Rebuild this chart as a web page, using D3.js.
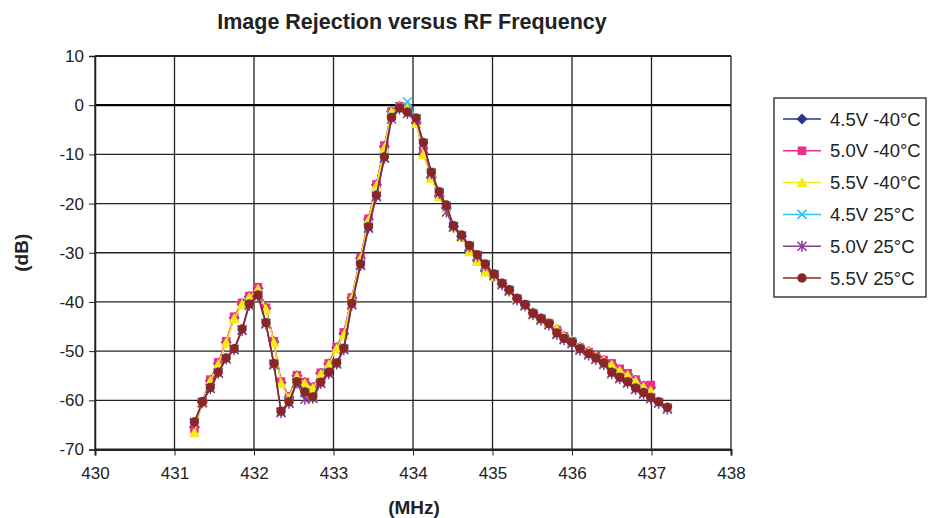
<!DOCTYPE html>
<html>
<head>
<meta charset="utf-8">
<script src="https://cdn.jsdelivr.net/npm/d3@7"></script>
<style>
  body { margin: 0; background: #fff; }
  svg { font-family: "Liberation Sans", Arial, sans-serif; }
  .grid line { stroke: #222; stroke-width: 1.3; }
</style>
</head>
<body>
<svg id="chart"></svg>
<script>
// frequencies (MHz)
const freq = [431.25, 431.35, 431.45, 431.55, 431.65, 431.75, 431.85, 431.94, 432.05, 432.15,
  432.25, 432.34, 432.44, 432.54, 432.64, 432.74, 432.84, 432.94, 433.04, 433.13,
  433.23, 433.34, 433.44, 433.54, 433.64, 433.73, 433.83, 433.93, 434.04, 434.13,
  434.23, 434.33, 434.42, 434.51, 434.61, 434.71, 434.81, 434.91, 435.02, 435.12,
  435.21, 435.31, 435.41, 435.51, 435.61, 435.71, 435.81, 435.9, 436.0, 436.1,
  436.21, 436.3, 436.4, 436.5, 436.6, 436.7, 436.8, 436.9, 436.99, 437.09, 437.2];

const v45m40 = [-65.5, -60.4, -56.0, -52.5, -48.2, -43.2, -40.4, -38.9, -37.2, -41.3,
  -48.1, -56.4, -59.4, -55.0, -56.4, -57.4, -54.5, -52.6, -49.3, -46.4,
  -39.2, -31.1, -23.2, -16.2, -8.4, -1.3, -0.2, -0.6, -3.5, -9.8,
  -14.7, -18.4, -20.9, -24.7, -26.7, -29.6, -31.6, -33.7, -34.8, -36.3,
  -37.6, -39.3, -40.6, -42.2, -43.3, -44.3, -45.6, -46.9, -48.0, -49.2,
  -50.1, -51.0, -51.9, -52.6, -53.8, -54.7, -55.9, -57.1, -57.4];
const v50m40 = [-65.8, -60.3, -55.8, -52.3, -48.0, -43.0, -40.2, -38.8, -37.0, -41.2,
  -48.0, -56.2, -59.3, -54.9, -56.3, -57.3, -54.4, -52.5, -49.2, -46.2,
  -39.1, -31.0, -23.1, -16.1, -8.2, -1.3, -0.2, -0.7, -3.3, -9.6,
  -14.5, -18.3, -20.8, -24.6, -26.6, -29.5, -31.5, -33.6, -34.7, -36.3,
  -37.6, -39.3, -40.6, -42.3, -43.3, -44.3, -45.7, -47.0, -48.0, -49.3,
  -50.2, -51.0, -51.8, -52.5, -53.6, -54.5, -55.8, -57.0, -56.9];
const v55m40 = [-66.6, -60.5, -56.1, -52.7, -48.3, -43.4, -40.5, -39.1, -37.4, -41.5,
  -48.3, -56.6, -59.6, -55.2, -56.6, -57.6, -54.7, -52.8, -49.5, -46.7,
  -39.3, -31.2, -23.4, -16.4, -8.7, -1.4, -0.3, -0.5, -3.7, -10.0,
  -14.9, -18.6, -21.0, -24.8, -26.8, -29.8, -31.8, -33.9, -34.9, -36.3,
  -37.6, -39.3, -40.6, -42.2, -43.3, -44.2, -45.5, -46.9, -47.9, -49.2,
  -50.1, -51.0, -51.9, -52.8, -54.0, -54.9, -56.1, -57.3, -58.1];
const v45p25 = [-64.5, -60.4, -57.5, -54.4, -51.5, -49.6, -45.6, -40.5, -38.7, -44.3,
  -52.6, -62.3, -60.4, -56.3, -58.5, -59.4, -56.4, -54.4, -52.5, -49.5,
  -40.4, -32.4, -24.8, -18.4, -10.6, -2.2, -0.4, 0.7, -2.7, -7.7,
  -13.7, -17.7, -20.5, -24.6, -26.5, -28.6, -30.5, -32.4, -34.4, -36.3,
  -37.6, -39.4, -40.6, -42.4, -43.5, -44.5, -46.4, -47.5, -48.3, -49.6,
  -50.6, -51.5, -52.5, -54.4, -55.4, -56.3, -57.6, -58.5, -59.5, -60.4, -61.5];
const v50p25 = [-64.6, -60.5, -57.6, -54.5, -51.6, -49.7, -45.8, -40.7, -38.8, -44.5,
  -52.8, -62.5, -60.6, -56.5, -59.8, -59.6, -56.6, -54.6, -52.6, -49.7,
  -40.6, -32.6, -25.0, -18.6, -10.8, -2.8, -0.8, -1.7, -2.9, -7.9,
  -13.9, -17.9, -21.7, -24.8, -26.7, -28.8, -30.7, -32.6, -34.6, -36.5,
  -37.8, -39.6, -40.8, -42.6, -43.7, -44.7, -46.6, -47.7, -48.5, -49.8,
  -50.8, -51.7, -52.7, -54.6, -55.6, -56.5, -57.8, -58.7, -59.7, -60.6, -61.8];
const v55p25 = [-64.4, -60.3, -57.4, -54.3, -51.4, -49.5, -45.5, -40.4, -38.6, -44.2,
  -52.5, -62.2, -60.3, -56.2, -58.3, -59.3, -56.3, -54.3, -52.4, -49.4,
  -40.3, -32.3, -24.7, -18.3, -10.5, -2.5, -0.55, -1.4, -2.6, -7.6,
  -13.6, -17.6, -20.3, -24.5, -26.4, -28.5, -30.4, -32.3, -34.3, -36.2,
  -37.5, -39.3, -40.5, -42.3, -43.4, -44.4, -46.3, -47.4, -48.2, -49.5,
  -50.5, -51.4, -52.4, -54.3, -55.3, -56.2, -57.5, -58.4, -59.4, -60.3, -61.4];

const seriesNames = ['4.5V -40°C', '5.0V -40°C', '5.5V -40°C', '4.5V 25°C', '5.0V 25°C', '5.5V 25°C'];
const seriesValues = [v45m40, v50m40, v55m40, v45p25, v50p25, v55p25];
const xTicks = [430, 431, 432, 433, 434, 435, 436, 437, 438];
const yTicks = [10, 0, -10, -20, -30, -40, -50, -60, -70];

const colors = ['#2a3391', '#ec2f8f', '#f5ec12', '#33c4ec', '#8a3a97', '#8b2626'];
const markers = ['diamond', 'square', 'triangle', 'x', 'star', 'circle'];

const width = 928;
const height = 518;
const m = { left: 95, right: 197, top: 56, bottom: 68.5 };

const svg = d3.select('#chart')
  .attr('width', width)
  .attr('height', height);

const x = d3.scaleLinear().domain([430, 438]).range([m.left, width - m.right]);
const y = d3.scaleLinear().domain([-70, 10]).range([height - m.bottom, m.top]);

// gridlines
const grid = svg.append('g').attr('class', 'grid');
grid.selectAll('.gx')
  .data(xTicks)
  .enter().append('line')
  .attr('x1', d => x(d)).attr('x2', d => x(d))
  .attr('y1', y(10)).attr('y2', y(-70));
grid.selectAll('.gy')
  .data(yTicks)
  .enter().append('line')
  .attr('x1', x(430)).attr('x2', x(438))
  .attr('y1', d => y(d)).attr('y2', d => y(d))
  .style('stroke-width', d => (d === 0 || d === 10 || d === -70) ? 2.2 : 1.3)
  .style('stroke', d => d === 0 ? '#000' : '#222');

// axes (plain hyphen for minus, like the original)
const fmt = d => String(d);

svg.append('g')
  .attr('transform', 'translate(0,' + y(-70) + ')')
  .call(d3.axisBottom(x).tickValues(xTicks).tickSize(6).tickPadding(11).tickFormat(fmt))
  .attr('font-size', 17)
  .attr('font-family', 'Liberation Sans, Arial, sans-serif')
  .call(g => g.select('.domain').attr('stroke', '#222').attr('stroke-width', 2))
  .call(g => g.selectAll('.tick line').attr('stroke', '#222'))
  .call(g => g.selectAll('.tick text').attr('fill', '#222'));

svg.append('g')
  .attr('transform', 'translate(' + x(430) + ',0)')
  .call(d3.axisLeft(y).tickValues(yTicks).tickSize(6).tickPadding(5).tickFormat(fmt))
  .attr('font-size', 17)
  .attr('font-family', 'Liberation Sans, Arial, sans-serif')
  .call(g => g.select('.domain').attr('stroke', '#222').attr('stroke-width', 1.5))
  .call(g => g.selectAll('.tick line').attr('stroke', '#222'))
  .call(g => g.selectAll('.tick text').attr('fill', '#222'));

// titles
svg.append('text')
  .attr('x', 412).attr('y', 29)
  .attr('text-anchor', 'middle')
  .style('font-size', '21.5px').style('font-weight', 'bold').style('fill', '#222')
  .text('Image Rejection versus RF Frequency');

svg.append('text')
  .attr('x', 414).attr('y', 514)
  .attr('text-anchor', 'middle')
  .style('font-size', '19px').style('font-weight', 'bold').style('fill', '#222')
  .text('(MHz)');

svg.append('text')
  .attr('transform', 'translate(28,' + y(-30) + ') rotate(-90)')
  .attr('text-anchor', 'middle')
  .style('font-size', '19px').style('font-weight', 'bold').style('fill', '#222')
  .text('(dB)');

function drawMarker(sel, type, color) {
  if (type === 'circle') {
    sel.append('circle').attr('r', 4.7).attr('fill', color);
  } else if (type === 'square') {
    sel.append('rect').attr('x', -4.3).attr('y', -4.3).attr('width', 8.6).attr('height', 8.6).attr('fill', color);
  } else if (type === 'diamond') {
    sel.append('path').attr('d', 'M0,-5.5L5.5,0L0,5.5L-5.5,0Z').attr('fill', color);
  } else if (type === 'triangle') {
    sel.append('path').attr('d', 'M0,-5.5L5.5,4.5L-5.5,4.5Z').attr('fill', color);
  } else if (type === 'x') {
    sel.append('path').attr('d', 'M-4.5,-4.5L4.5,4.5M-4.5,4.5L4.5,-4.5').attr('stroke', color).attr('stroke-width', 1.7);
  } else if (type === 'star') {
    sel.append('path').attr('d', 'M-4.5,-4.5L4.5,4.5M-4.5,4.5L4.5,-4.5M0,-5.5L0,5.5').attr('stroke', color).attr('stroke-width', 1.5);
  }
}

const line = d3.line()
  .x((d, i) => x(freq[i]))
  .y(d => y(d));

seriesValues.forEach((vals, s) => {
  const g = svg.append('g');
  g.append('path')
    .datum(vals)
    .attr('fill', 'none')
    .attr('stroke', colors[s])
    .attr('stroke-width', 1.5)
    .attr('d', line);
  const pts = g.selectAll('.pt')
    .data(vals)
    .enter().append('g')
    .attr('transform', (d, i) => 'translate(' + x(freq[i]) + ',' + y(d) + ')');
  drawMarker(pts, markers[s], colors[s]);
});

// legend
const legend = svg.append('g').attr('transform', 'translate(774,98)');
legend.append('rect')
  .attr('width', 152).attr('height', 199)
  .attr('fill', '#fff').attr('stroke', '#222').attr('stroke-width', 1.3);

seriesNames.forEach((name, s) => {
  const row = legend.append('g').attr('transform', 'translate(0,' + (21 + s * 31.8) + ')');
  row.append('line')
    .attr('x1', 9).attr('x2', 47)
    .attr('stroke', colors[s]).attr('stroke-width', 1.5);
  drawMarker(row.append('g').attr('transform', 'translate(28,0)'), markers[s], colors[s]);
  row.append('text')
    .attr('x', 56).attr('y', 6.5)
    .style('font-size', '18.5px').style('fill', '#222')
    .text(name);
});
</script>
</body>
</html>
